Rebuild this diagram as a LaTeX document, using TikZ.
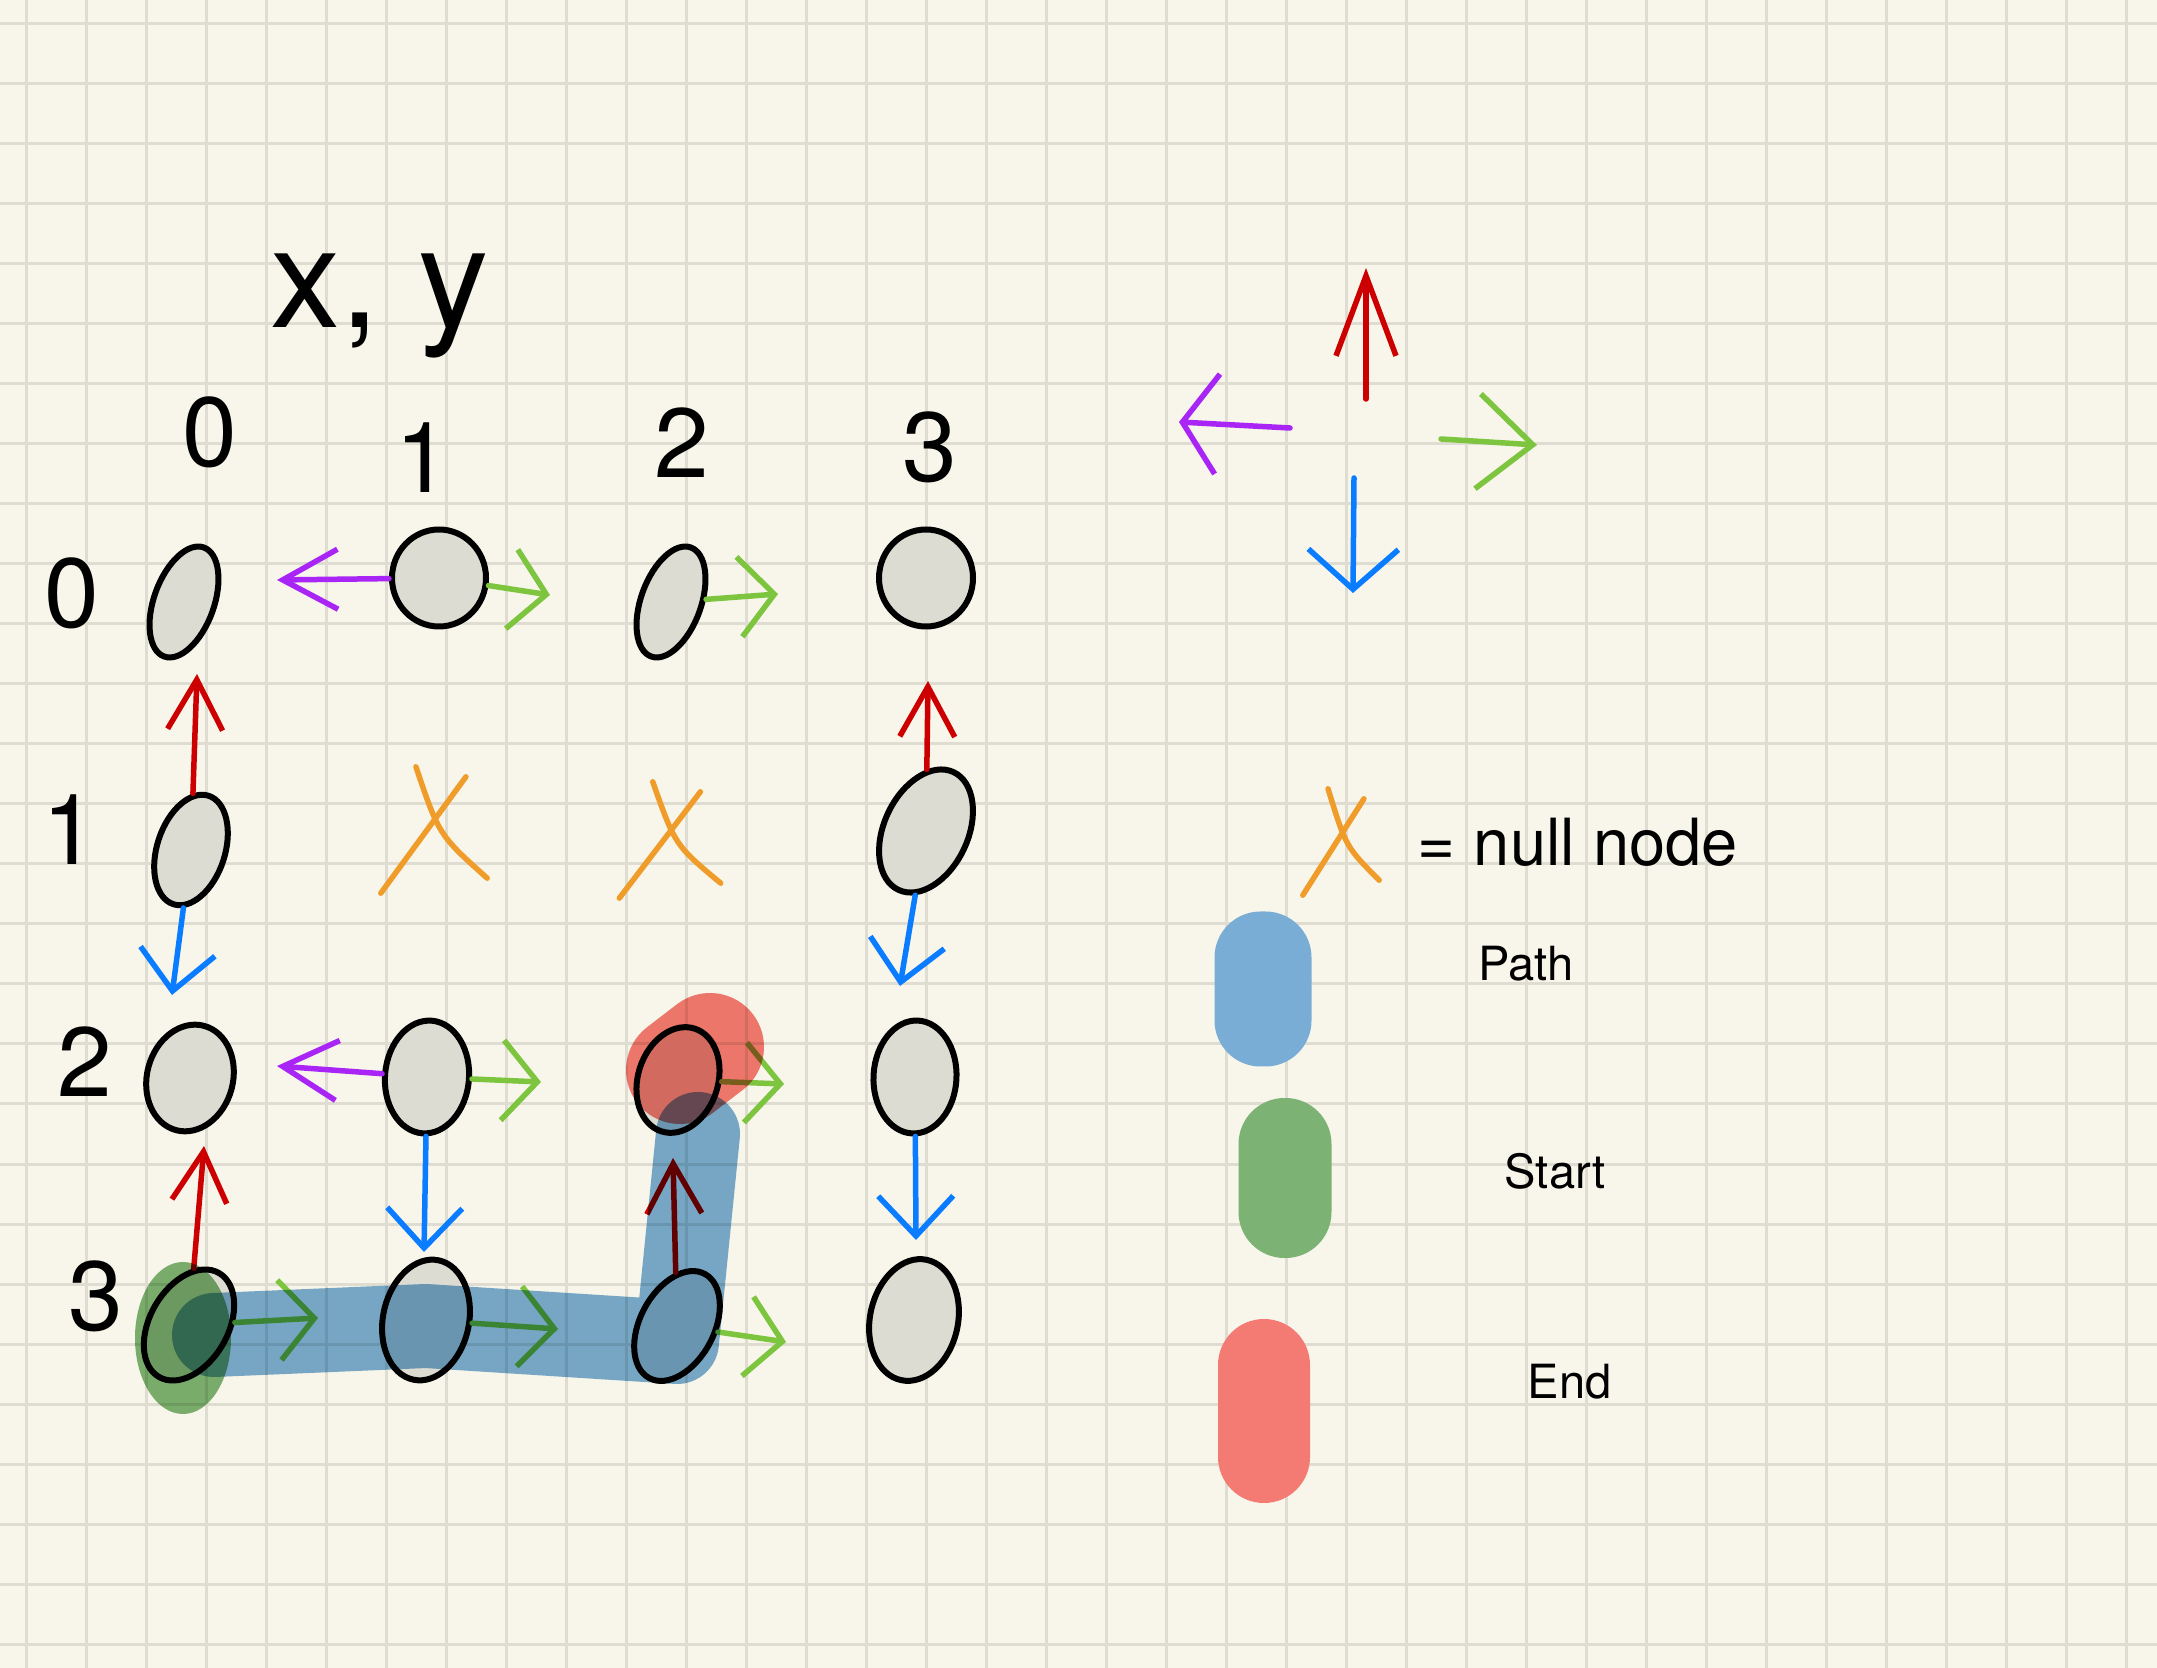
\documentclass[tikz,border=0pt]{standalone}
\usepackage{fontspec}
\setmainfont{TeX Gyre Heros}
\usetikzlibrary{positioning, shapes.geometric, arrows.meta, calc}

\definecolor{paper}{RGB}{248,246,234}
\definecolor{gridline}{RGB}{223,221,209}
\definecolor{cellgray}{RGB}{220,220,210}
\definecolor{pathblue}{RGB}{122,173,214}
\definecolor{startgreen}{RGB}{125,178,117}
\definecolor{endred}{RGB}{244,123,116}
\definecolor{upred}{RGB}{204,0,0}
\definecolor{leftpurple}{RGB}{168,37,245}
\definecolor{rightgreen}{RGB}{125,196,63}
\definecolor{downblue}{RGB}{10,124,255}
\definecolor{nullorange}{RGB}{240,156,42}

\tikzset{
  cell/.style={ellipse, draw=black, line width=0.6mm, fill=cellgray, inner sep=0pt},
  nullnode/.style={inner sep=0pt, minimum width=10.5mm, minimum height=12.5mm},
  nullstroke/.style={nullorange, line width=0.55mm, line cap=round},
  hand/.style={line width=0.55mm, line cap=round, line join=round},
  goup/.style={hand, upred, -{Straight Barb[length=5mm,width=5.5mm]}},
  godown/.style={hand, downblue, -{Straight Barb[length=4mm,width=7.5mm]}},
  goleft/.style={hand, leftpurple, -{Straight Barb[length=5.5mm,width=6mm]}},
  goright/.style={hand, rightgreen, -{Straight Barb[length=3.5mm,width=8mm]}},
  idx/.style={font=\fontsize{28}{30}\selectfont, anchor=base, inner sep=0pt},
  keytext/.style={inner sep=0pt, anchor=base west, font=\fontsize{13.4}{16}\selectfont},
  swatch/.style={inner sep=0pt, rounded corners=4.6mm},
  marker/.style={line cap=round, line join=round, blend mode=multiply},
}

\begin{document}
\begin{tikzpicture}[x=0.1mm, y=-0.1mm]

\useasboundingbox (0,0) rectangle (2157,1668);
\fill[paper] (0,0) rectangle (2157,1668);
\foreach \gx in {26,86,...,2126}
  \draw[gridline, line width=0.3mm] (\gx,0) -- (\gx,1668);
\foreach \gy in {24,84,...,1644}
  \draw[gridline, line width=0.3mm] (0,\gy) -- (2157,\gy);

% indices
\node[idx, font=\fontsize{40}{44}\selectfont] (xy) at (380,328) {x, y};
\node[idx] (c0) at (210,467) {0};
\node[idx] (c1) at (423,493) {1};
\node[idx] (c2) at (682,478) {2};
\node[idx] (c3) at (930,482) {3};
\node[idx] (r0) at (72,628) {0};
\node[idx] (r1) at (70,865) {1};
\node[idx] (r2) at (85,1097) {2};
\node[idx] (r3) at (96,1330) {3};

% cells
\node[cell, minimum width=6mm, minimum height=11.6mm, rotate=-20] (n00) at (184,602) {};
\node[cell, minimum width=9.4mm, minimum height=9.7mm] (n10) at (439,578) {};
\node[cell, minimum width=6mm, minimum height=11.6mm, rotate=-20] (n20) at (671,602) {};
\node[cell, minimum width=9.4mm, minimum height=9.7mm] (n30) at (926,578) {};

\node[cell, minimum width=6.8mm, minimum height=11.4mm, rotate=-18] (n01) at (191,850) {};
\node[nullnode] (x11) at (434,830) {};
\node[nullnode, minimum width=10mm, minimum height=11.5mm] (x21) at (670,840) {};
\node[cell, minimum width=8.4mm, minimum height=13mm, rotate=-25] (n31) at (926,831) {};

\node[cell, minimum width=8.6mm, minimum height=10.8mm, rotate=-15] (n02) at (190,1078) {};
\node[cell, minimum width=8.4mm, minimum height=11.3mm, rotate=-5] (n12) at (427,1077) {};
\node[cell, minimum width=8mm, minimum height=10.8mm, rotate=-18] (n22) at (678,1080) {};
\node[cell, minimum width=8.3mm, minimum height=11.3mm, rotate=-3] (n32) at (915,1077) {};

\node[cell, minimum width=7.8mm, minimum height=12mm, rotate=-30] (n03) at (189,1325) {};
\node[cell, minimum width=8.6mm, minimum height=12.2mm, rotate=-12] (n13) at (426,1320) {};
\node[cell, minimum width=7.4mm, minimum height=11.8mm, rotate=-28] (n23) at (677,1326) {};
\node[cell, minimum width=8.8mm, minimum height=12.3mm, rotate=-12] (n33) at (914,1320) {};

% moves
\coordinate (n10w) at (277,580);
\coordinate (n10e) at (550,595);
\coordinate (n20e) at (778,594);
\coordinate (n01n) at (197,674);
\coordinate (n01s) at (172,995);
\coordinate (n31n) at (928,681);
\coordinate (n31s) at (900,986);
\coordinate (n12w) at (277,1066);
\coordinate (n12e) at (541,1082);
\coordinate (n12s) at (424,1252);
\coordinate (n22e) at (784,1084);
\coordinate (n32s) at (916,1240);
\coordinate (n03n) at (204,1146);
\coordinate (n03e) at (318,1318);
\coordinate (n13e) at (558,1329);
\coordinate (n23n) at (673,1158);
\coordinate (n23e) at (786,1342);

\draw[goleft] (n10) -- (n10w);
\draw[goright] (n10) -- (n10e);
\draw[goright] (n20) -- (n20e);
\draw[goup] (n01) -- (n01n);
\draw[godown] (n01) -- (n01s);
\draw[goup] (n31) -- (n31n);
\draw[godown] (n31) -- (n31s);
\draw[goleft] (n12) -- (n12w);
\draw[goright] (n12) -- (n12e);
\draw[godown] (n12) -- (n12s);
\draw[goright] (n22) -- (n22e);
\draw[godown] (n32) -- (n32s);
\draw[goup] (n03) -- (n03n);
\draw[goright] (n03) -- (n03e);
\draw[goright] (n13) -- (n13e);
\draw[goup] (n23) -- (n23n);
\draw[goright] (n23) -- (n23e);

% key
\coordinate (kna) at (1366,399);
\coordinate (knb) at (1366,268);
\coordinate (kwa) at (1290,428);
\coordinate (kwb) at (1179,422);
\coordinate (kea) at (1441,439);
\coordinate (keb) at (1537,445);
\coordinate (ksa) at (1354,478);
\coordinate (ksb) at (1353,593);
\draw[goup, -{Straight Barb[length=8mm,width=6mm]}] (kna) -- (knb);
\draw[goleft, -{Straight Barb[length=3.5mm,width=10mm]}] (kwa) -- (kwb);
\draw[goright, -{Straight Barb[length=5.5mm,width=9.5mm]}] (kea) -- (keb);
\draw[godown, -{Straight Barb[length=4mm,width=9mm]}] (ksa) -- (ksb);

\node[nullnode, minimum width=7.5mm, minimum height=10.5mm] (xkey) at (1341,842) {};
\node[keytext, font=\fontsize{18.5}{22}\selectfont, right=3.8mm of xkey] (knull) {= null node};

\foreach \n in {x11, x21, xkey} {
  \draw[nullstroke] ($(\n.north west)!0.33!(\n.north east)$) .. controls ($(\n.center)+(0.5mm,-0.5mm)$) .. ($(\n.south east)+(0mm,1.5mm)$);
  \draw[nullstroke] ($(\n.north west)!0.8!(\n.north east)+(0mm,-1mm)$) -- (\n.south west);
}

\node[swatch, fill=pathblue, minimum width=9.7mm, minimum height=15.5mm] (kpath) at (1263,989) {};
\node[swatch, fill=startgreen, minimum width=9.3mm, minimum height=16mm] (kstart) at (1285,1178) {};
\node[swatch, fill=endred, minimum width=9.2mm, minimum height=18.4mm] (kend) at (1264,1411) {};
\node[keytext] (lpath) at (1478,981) {Path};
\node[keytext] (lstart) at (1504,1188) {Start};
\node[keytext] (lend) at (1527,1398) {End};

% highlighted path
\draw[marker, pathblue, line width=8.4mm] ([shift={(2.5mm,-1mm)}]n03.center) -- ([yshift=-0.6mm]n13.center) -- ([yshift=-1.6mm]n23.center) -- ([shift={(2mm,-5.4mm)}]n22.center);
\fill[marker, startgreen] ([shift={(-0.6mm,-1.3mm)}]n03.center) ellipse (4.8mm and 7.6mm);
\draw[marker, endred, line width=10.8mm] ([shift={(0.2mm,1mm)}]n22.center) -- ([shift={(3.2mm,3.3mm)}]n22.center);

\end{tikzpicture}
\end{document}
